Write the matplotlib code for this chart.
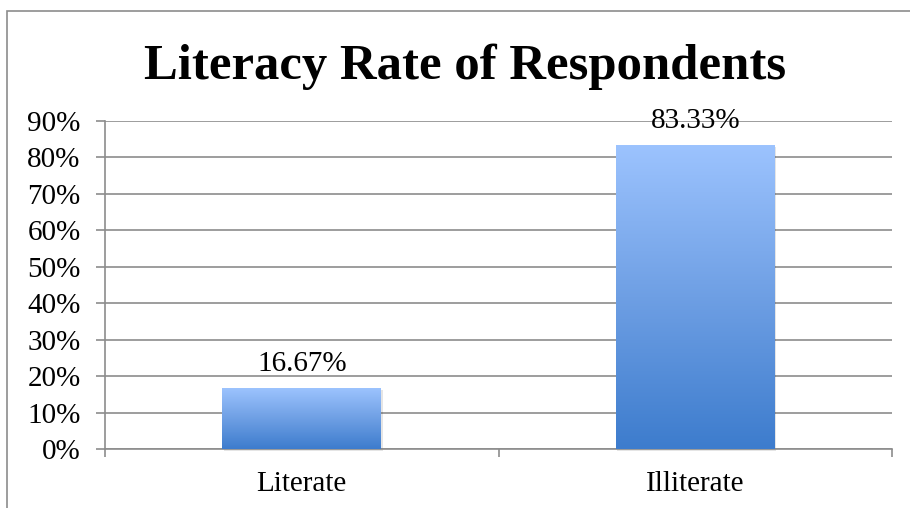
import numpy as np
import matplotlib.pyplot as plt
from matplotlib.colors import LinearSegmentedColormap
from matplotlib.patches import Rectangle

categories = ["Literate", "Illiterate"]
values = [16.67, 83.33]
yticks = [0, 10, 20, 30, 40, 50, 60, 70, 80, 90]

plt.rcParams["font.family"] = ["Liberation Serif", "DejaVu Serif"]

fig = plt.figure(figsize=(9.1, 5.08), dpi=100)

# outer chart frame
fig.patches.append(Rectangle((7 / 910, -0.1), 1.0, 1.1 - 11 / 508, transform=fig.transFigure,
                             fill=False, edgecolor="#8c8c8c", linewidth=1.2))

ax = fig.add_axes([105 / 910, 1 - 449 / 508, 787 / 910, (449 - 121) / 508])

grad_cmap = LinearSegmentedColormap.from_list("bar", ["#3d7ccd", "#6e9fe4", "#9cc3fe"])
gradient = np.linspace(0, 1, 256).reshape(-1, 1)

width = 0.404
bars = ax.bar(range(len(categories)), values, width=width, color="none", zorder=3)
for bar, val in zip(bars, values):
    x0 = bar.get_x()
    # faint shadow under the bar's right/bottom edge
    ax.add_patch(Rectangle((x0 + 0.004, -0.6), width, val, facecolor="#000000",
                           alpha=0.10, edgecolor="none", zorder=2.5, clip_on=False))
    im = ax.imshow(gradient, cmap=grad_cmap, origin="lower", aspect="auto",
                   extent=(x0, x0 + width, 0, val), zorder=3)
    im.set_clip_path(bar)
    ax.annotate(f"{val:.2f}%", (x0 + width / 2, val), xytext=(0, 12.5),
                textcoords="offset points", ha="center", va="baseline",
                fontsize=21, zorder=4)

ax.set_xlim(-0.5, 1.5)
ax.set_ylim(0, 90)

ax.set_yticks(yticks)
ax.set_yticklabels([f"{t}%" for t in yticks])
ax.yaxis.grid(True, color="#8c8c8c", linewidth=1.2)
ax.set_axisbelow(True)

ax.set_xticks([-0.5, 0.5, 1.5], minor=False)
ax.set_xticklabels([])
ax.set_xticks([0, 1], minor=True)
ax.set_xticklabels(categories, minor=True)
ax.tick_params(axis="x", which="major", length=5.8, color="#8c8c8c", width=1.2)
ax.tick_params(axis="x", which="minor", length=0, pad=16, labelsize=21)
ax.tick_params(axis="y", length=6.5, color="#8c8c8c", width=1.2, pad=11, labelsize=21)

for side in ["top", "right"]:
    ax.spines[side].set_visible(False)
for side in ["left", "bottom"]:
    ax.spines[side].set_color("#8c8c8c")
    ax.spines[side].set_linewidth(1.2)

fig.text(465 / 910, 1 - 79 / 508, "Literacy Rate of Respondents", ha="center", va="baseline",
         fontsize=36.5, fontweight="bold")

fig.savefig("out.png", dpi=100)
